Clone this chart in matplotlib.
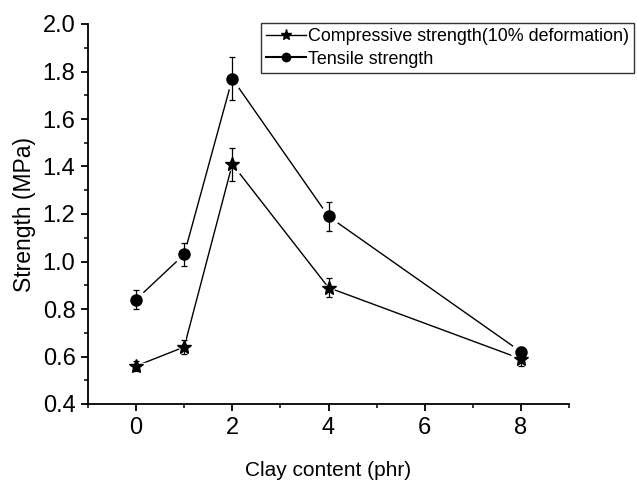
import matplotlib
matplotlib.use("Agg")
import matplotlib.pyplot as plt
from matplotlib.ticker import MultipleLocator

clay = [0, 1, 2, 4, 8]
compressive = [0.56, 0.64, 1.41, 0.89, 0.59]
compressive_err = [0.02, 0.03, 0.07, 0.04, 0.03]
tensile = [0.84, 1.03, 1.77, 1.19, 0.62]
tensile_err = [0.04, 0.05, 0.09, 0.06, 0.02]

plt.rcParams['font.family'] = ['Liberation Sans', 'DejaVu Sans']

fig = plt.figure(figsize=(6.37, 4.8), dpi=100)
ax = fig.add_axes([88/637, 1-404/480, (569-88)/637, (404-24)/480])

for y, e, m, ms, lab in [(compressive, compressive_err, '*', 10, 'Compressive strength(10% deformation)'),
                          (tensile, tensile_err, 'o', 8, 'Tensile strength')]:
    ax.plot(clay, y, '-', color='black', lw=1.0, zorder=1)
    ax.plot(clay, y, m, ls='none', ms=ms + 6, color='white', zorder=2)
    ax.errorbar(clay, y, yerr=e, fmt='none', ecolor='black', elinewidth=0.9, capsize=2.5, capthick=0.9, zorder=3)
    ax.plot(clay, y, m, ls='none', ms=ms, color='black', zorder=4)

ax.set_xlim(-1, 9)
ax.set_ylim(0.4, 2.0)
ax.xaxis.set_major_locator(MultipleLocator(2))
ax.xaxis.set_minor_locator(MultipleLocator(1))
ax.yaxis.set_major_locator(MultipleLocator(0.2))
ax.yaxis.set_minor_locator(MultipleLocator(0.1))
ax.yaxis.set_major_formatter(matplotlib.ticker.FormatStrFormatter('%.1f'))
ax.spines['top'].set_visible(False)
ax.spines['right'].set_visible(False)
for s in ['left', 'bottom']:
    ax.spines[s].set_linewidth(1.3)
ax.tick_params(which='major', direction='out', length=5, width=1.3, labelsize=17, pad=4)
ax.tick_params(which='minor', direction='out', length=3, width=1.1)
ax.set_xlabel('Clay content (phr)', fontsize=15, labelpad=16)
ax.set_ylabel('Strength (MPa)', fontsize=16.5, labelpad=5)

from matplotlib.lines import Line2D
h1 = Line2D([], [], color='black', lw=1.0, marker='*', ms=8)
h2 = Line2D([], [], color='black', lw=1.5, marker='o', ms=6)
leg = fig.legend([h1, h2], ['Compressive strength(10% deformation)', 'Tensile strength'],
                 loc='upper left', bbox_to_anchor=(261/637, 1-23/480), fontsize=12.9,
                 frameon=True, fancybox=False, edgecolor='black', handlelength=2.2,
                 handletextpad=0.1, borderpad=0.3, labelspacing=0.3, borderaxespad=0)
leg.get_frame().set_linewidth(1.0)

fig.savefig('out.png', dpi=100)
